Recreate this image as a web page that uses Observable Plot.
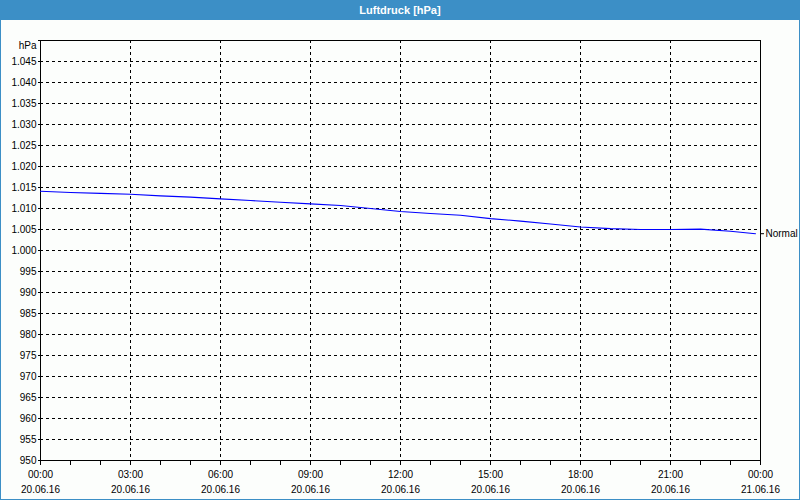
<!DOCTYPE html>
<html><head><meta charset="utf-8">
<script src="https://cdn.jsdelivr.net/npm/d3@7"></script>
<script src="https://cdn.jsdelivr.net/npm/@observablehq/plot@0.6"></script>
<style>
html,body{margin:0;padding:0;background:#fff;}
#wrap{width:798px;height:498px;border:1px solid #3c8fc6;background:#fcfefc;font-family:"Liberation Sans",Arial,sans-serif;overflow:hidden;}
#title{height:19px;background:#3c8fc6;color:#fff;font-weight:bold;font-size:11px;text-align:center;line-height:19px;}
#chart svg{display:block;}
</style></head>
<body>
<div id="wrap"><div id="title">Luftdruck [hPa]</div><div id="chart"></div></div>
<script>
// Data: air pressure on 20.06.2016
const times = ["00:00","01:00","02:00","03:00","04:00","05:00","06:00","07:00","08:00","09:00","10:00","11:00",
  "12:00","13:00","14:00","15:00","16:00","17:00","18:00","19:00","20:00","21:00","22:00","23:00","23:50"];
const values = [1014.1,1013.8,1013.6,1013.4,1013.0,1012.7,1012.3,1011.9,1011.5,1011.1,1010.7,1010.0,
  1009.3,1008.8,1008.4,1007.6,1007.0,1006.3,1005.6,1005.2,1005.0,1005.0,1005.1,1004.6,1004.0];
const seriesName = "Normal";
const yTicks = [950,955,960,965,970,975,980,985,990,995,1000,1005,1010,1015,1020,1025,1030,1035,1040,1045,1050];
const yUnitLabel = "hPa";
const xTickHours = [0,1,2,3,4,5,6,7,8,9,10,11,12,13,14,15,16,17,18,19,20,21,22,23,24];
const xLabelHours = [0,3,6,9,12,15,18,21,24];

const day0 = new Date(2016,5,20,0,0);
const hourDate = h => new Date(2016,5,20,h,0);
const data = times.map((t,i) => {
  const [hh,mm] = t.split(":").map(Number);
  return {date: new Date(2016,5,20,hh,mm), value: values[i]};
});
const start = hourDate(0), end = hourDate(24);
const last = data[data.length-1];

const fmtY = v => v === 1050 ? "" : (v >= 1000 ? "1." + String(v-1000).padStart(3,"0") : String(v));
const fmtTime = d3.timeFormat("%H:%M"), fmtDay = d3.timeFormat("%d.%m.%y");
const xTickDates = xTickHours.map(hourDate);
const isLabel = d => xLabelHours.includes((d - day0)/3600000);

const chart = Plot.plot({
  width: 798, height: 479,
  marginLeft: 39, marginRight: 39, marginTop: 20, marginBottom: 39,
  style: {fontFamily: "'Liberation Sans', Arial, sans-serif", fontSize: "10px", background: "transparent", color: "#000", overflow: "visible"},
  x: {type: "time", domain: [start, end]},
  y: {domain: [950, 1050]},
  marks: [
    Plot.ruleY(yTicks.filter(v => v > 950 && v < 1050), {stroke: "#000", strokeDasharray: "3,3", strokeOpacity: 1}),
    Plot.ruleX(xLabelHours.filter(h => h > 0 && h < 24).map(hourDate), {stroke: "#000", strokeDasharray: "3,3", strokeOpacity: 1}),
    Plot.frame({stroke: "#000"}),
    Plot.axisY(yTicks, {tickSize: 2, tickPadding: 2, tickFormat: fmtY, strokeOpacity: 1, fill: "#000", label: null}),
    Plot.text([yUnitLabel], {frameAnchor: "top-left", dx: -4, dy: 5, textAnchor: "end", lineAnchor: "middle", fill: "#000"}),
    Plot.axisX(xTickDates, {tickSize: 5, tickPadding: 2, strokeOpacity: 1, fill: "#000", label: null, lineHeight: 1.5,
      tickFormat: d => isLabel(d) ? fmtTime(d) + "\n" + fmtDay(d) : ""}),
    Plot.line(data, {x: "date", y: "value", stroke: "#0000ff", strokeWidth: 1.1}),
    Plot.ruleY([last], {x1: () => end, x2: () => new Date(+end + 8*60000), y: "value", stroke: "#000"}),
    Plot.text([last], {x: () => end, y: "value", text: () => seriesName, dx: 5, textAnchor: "start", fill: "#000"})
  ]
});
document.getElementById("chart").appendChild(chart);
</script>
</body></html>
